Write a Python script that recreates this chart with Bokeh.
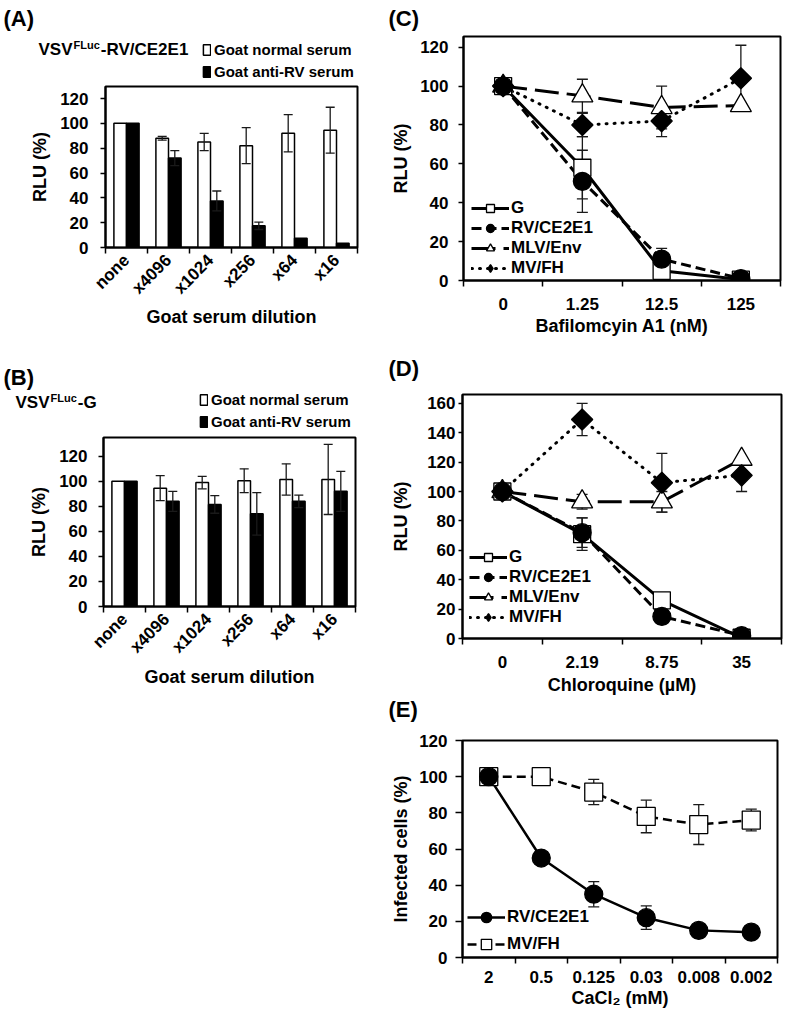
import math
import numpy as np
from bokeh.plotting import figure
from bokeh.models import Range1d, FixedTicker, Legend, LegendItem, Label
from bokeh.layouts import row, column
from bokeh.embed import file_html
from bokeh.resources import INLINE

FONT = "Liberation Sans"

# ---------------- data ----------------
dilution_labels = ["none", "x4096", "x1024", "x256", "x64", "x16"]
A_normal     = [100, 88, 85, 82, 92, 94.5]
A_normal_err = [0, 1.5, 7, 14.5, 15, 18.5]
A_anti       = [100, 72, 37.5, 17.5, 7.5, 3.5]
A_anti_err   = [0, 6, 8, 3, 0, 0]

B_normal     = [100, 94.5, 99, 100.5, 101.5, 101.5]
B_normal_err = [0, 10, 5, 9.5, 12.5, 28]
B_anti       = [100, 84, 81.5, 74, 84, 92]
B_anti_err   = [0, 8, 7, 17, 5, 16]

bafilomycin_labels = ["0", "1.25", "12.5", "125"]
C_G       = [100, 58, 5, 0.5]
C_G_err   = [0, 16, 0, 0]
C_RV      = [100, 51, 11, 1]
C_RV_err  = [0, 16, 5.5, 0]
C_MLV     = [100, 95, 89, 90]
C_MLV_err = [0, 8.5, 11, 0]
C_MV      = [100, 80, 82, 104]
C_MV_err  = [0, 6, 8, 17]

chloroquine_labels = ["0", "2.19", "8.75", "35"]
D_G       = [100, 71, 26, 0.5]
D_G_err   = [0, 11, 0, 0]
D_RV      = [100, 72, 15, 2]
D_RV_err  = [0, 10, 0, 0]
D_MLV     = [100, 93, 93, 122]
D_MLV_err = [0, 5, 7, 0]
D_MV      = [100, 149, 106, 111]
D_MV_err  = [0, 11, 20, 11]

cacl2_labels = ["2", "0.5", "0.125", "0.03", "0.008", "0.002"]
E_RV      = [100, 55, 35, 22, 15, 14]
E_RV_err  = [0, 0, 7, 6.5, 0, 0]
E_MV      = [100, 100, 91.5, 78, 73.5, 76]
E_MV_err  = [0, 4, 7, 9, 11, 6]

series_names = ["G", "RV/CE2E1", "MLV/Env", "MV/FH"]
serum_names = ["Goat normal serum", "Goat anti-RV serum"]

# ---------------- helpers ----------------
CHAR_W = {'V': .667, 'S': .667, 'F': .611, 'L': .611, 'u': .611, 'c': .556, '-': .333,
          'R': .722, '/': .278, 'C': .722, 'E': .667, '2': .556, '1': .556, 'G': .778}


def text_width(s, size):
    return sum(CHAR_W.get(ch, .6) for ch in s) * size


def header(width, height):
    """Axis-less strip whose data units are pixels (y measured from the top)."""
    h = figure(width=width, height=height, output_backend="svg", toolbar_location=None,
               x_range=Range1d(0, width), y_range=Range1d(height, 0),
               x_axis_type=None, y_axis_type=None, frame_align=False,
               min_border_left=0, min_border_right=0, min_border_top=0, min_border_bottom=0)
    h.outline_line_color = None
    h.background_fill_color = "white"
    h.border_fill_color = "white"
    return h


def add_text(h, x, y, text, size):
    h.add_layout(Label(x=x, y=y, text=text, text_font=FONT, text_font_style="bold",
                       text_font_size=f"{size}px", text_align="left",
                       text_baseline="middle", text_color="black"))


def add_sup_title(h, x, y, main1, sup, main2, size=17, supsize=11):
    add_text(h, x, y, main1, size)
    x2 = x + text_width(main1, size) + 1
    add_text(h, x2, y - size * 0.25, sup, supsize)
    x3 = x2 + text_width(sup, supsize) + 1
    add_text(h, x3, y, main2, size)


def make_panel(width, height, n_cat, cat_labels, ymax, yticks, borders):
    left, right, top, bottom = borders
    p = figure(width=width, height=height, output_backend="svg", toolbar_location=None,
               x_range=Range1d(-0.5, n_cat - 0.5), y_range=Range1d(0, ymax),
               frame_align=False,
               min_border_left=left, min_border_right=right,
               min_border_top=top, min_border_bottom=bottom)
    p.xgrid.visible = False
    p.ygrid.visible = False
    p.outline_line_color = "black"
    p.outline_line_width = 2
    p.outline_line_alpha = 1
    p.background_fill_color = "white"
    p.border_fill_color = "white"
    xa = p.xaxis[0]
    xa.ticker = FixedTicker(ticks=list(range(n_cat)),
                            minor_ticks=[i - 0.5 for i in range(n_cat + 1)])
    xa.major_label_overrides = {i: lab for i, lab in enumerate(cat_labels)}
    xa.major_tick_out = 0
    xa.major_tick_in = 0
    xa.minor_tick_out = 6
    xa.minor_tick_in = 0
    ya = p.yaxis[0]
    ya.ticker = FixedTicker(ticks=yticks, minor_ticks=[])
    ya.major_tick_out = 5
    ya.major_tick_in = 0
    ya.minor_tick_out = 0
    ya.minor_tick_in = 0
    for ax in (xa, ya):
        ax.axis_line_width = 2
        ax.axis_line_color = "black"
        ax.major_tick_line_width = 1.5
        ax.minor_tick_line_width = 1.5
        ax.major_label_text_font = FONT
        ax.major_label_text_font_style = "bold"
        ax.major_label_text_font_size = "17px"
        ax.major_label_text_color = "black"
        ax.axis_label_text_font = FONT
        ax.axis_label_text_font_style = "bold"
        ax.axis_label_text_font_size = "18px"
        ax.axis_label_text_color = "black"
    return p


def add_errors(p, x, y, err, cap, color="#1a1a1a", lw=1.3):
    x = np.asarray(x, float)
    y = np.asarray(y, float)
    e = np.asarray(err, float)
    m = e > 0
    lo = y[m] - e[m]
    hi = y[m] + e[m]
    p.segment(x0=x[m], y0=lo, x1=x[m], y1=hi, line_color=color, line_width=lw)
    p.scatter(x=np.concatenate([x[m], x[m]]), y=np.concatenate([lo, hi]),
              marker="dash", size=cap, line_color=color, line_width=lw)


BAR_FILL = {"Goat normal serum": "white", "Goat anti-RV serum": "black"}


def bar_panel(p, labels, normal, normal_err, anti, anti_err):
    x = np.arange(len(labels))
    p.vbar(x=x - 0.15, top=normal, width=0.3, fill_color=BAR_FILL[serum_names[0]],
           line_color="black", line_width=1.5)
    p.vbar(x=x + 0.15, top=anti, width=0.3, fill_color=BAR_FILL[serum_names[1]],
           line_color="black", line_width=1.5)
    add_errors(p, x - 0.15, normal, normal_err, cap=9)
    add_errors(p, x + 0.15, anti, anti_err, cap=9)


def bar_legend(h, labels, normal, anti, location):
    """Legend key for the bar series; its renderers carry the same values but stay hidden."""
    x = np.arange(len(labels))
    items = []
    for name, vals in zip(serum_names, (normal, anti)):
        r = h.vbar(x=x, top=vals, width=0.3, fill_color=BAR_FILL[name],
                   line_color="black", line_width=1.5, visible=False)
        items.append(LegendItem(label=name, renderers=[r]))
    leg = Legend(items=items, location=location,
                 padding=0, margin=0, spacing=5, glyph_width=9, glyph_height=13,
                 label_standoff=3, label_text_font=FONT, label_text_font_style="bold",
                 label_text_font_size="15px", label_text_color="black",
                 background_fill_alpha=0, border_line_alpha=0, label_height=16)
    h.add_layout(leg)


STYLE = {
    "G":        dict(dash="solid", cap="butt", marker="square", fill="white", size=17, angle=0, legend_marker="square"),
    "RV/CE2E1": dict(dash="10 5", cap="butt", marker="circle", fill="black", size=18, angle=0, legend_marker="circle"),
    "MLV/Env":  dict(dash="24 8", cap="butt", marker="triangle", fill="white", size=21, angle=0, legend_marker="triangle"),
    "MV/FH":    dict(dash="1 7", cap="round", marker="square", fill="black", size=15, angle=math.pi / 4, legend_marker="diamond"),
}


def line_panel(p, n, data, draw_order, legend_order, location, lw=3, cap=11, spacing=0, gh=20):
    x = np.arange(n)
    lines = {}
    for name in draw_order:
        y, e, st = data[name]
        lines[name] = p.line(x, y, line_color="black", line_width=lw,
                             line_dash=st["dash"], line_cap=st["cap"])
    for name in draw_order:
        y, e, st = data[name]
        add_errors(p, x, y, e, cap=cap)
    marks = {}
    for name in draw_order:
        y, e, st = data[name]
        marks[name] = p.scatter(x, y, marker=st["marker"], size=st["size"], angle=st["angle"],
                                fill_color=st["fill"], line_color="black", line_width=1.3)
    items = []
    for name in legend_order:
        y, e, st = data[name]
        if st["angle"] != 0:
            # legend glyphs ignore the marker angle: use an unrotated diamond (hidden) as key
            proxy = p.scatter(x, y, marker=st["legend_marker"], size=st["size"],
                              fill_color=st["fill"], line_color="black", line_width=1.3,
                              visible=False)
            items.append(LegendItem(label=name, renderers=[lines[name], proxy]))
        else:
            items.append(LegendItem(label=name, renderers=[lines[name], marks[name]]))
    leg = Legend(items=items, location=location, padding=0, margin=0, spacing=spacing,
                 glyph_width=38, glyph_height=gh,
                 label_standoff=2, label_text_font=FONT, label_text_font_style="bold",
                 label_text_font_size="17px", label_text_color="black",
                 background_fill_alpha=0, border_line_alpha=0, label_height=19)
    p.add_layout(leg)


# ---------------- panel A ----------------
hA = header(388, 84)
add_text(hA, 3, 18, "(A)", 22)
add_sup_title(hA, 38, 49, "VSV", "FLuc", "-RV/CE2E1")
bar_legend(hA, dilution_labels, A_normal, A_anti, (202, 4))

pA = make_panel(388, 256, len(dilution_labels), dilution_labels, 129.7,
                [0, 20, 40, 60, 80, 100, 120], (105, 31, 2, 93))
pA.xaxis[0].major_label_orientation = math.pi / 4
pA.xaxis[0].major_label_standoff = 4
pA.xaxis[0].axis_label = "Goat serum dilution"
pA.xaxis[0].axis_label_standoff = 0
pA.yaxis[0].axis_label = "RLU (%)"
pA.yaxis[0].major_label_standoff = 12
pA.yaxis[0].axis_label_standoff = 7
bar_panel(pA, dilution_labels, A_normal, A_normal_err, A_anti, A_anti_err)

# ---------------- panel B ----------------
hB = header(388, 95)
add_text(hB, 3, 37, "(B)", 22)
add_sup_title(hB, 15, 62, "VSV", "FLuc", "-G")
bar_legend(hB, dilution_labels, B_normal, B_anti, (199, 5))

pB = make_panel(388, 255, len(dilution_labels), dilution_labels, 135,
                [0, 20, 40, 60, 80, 100, 120], (103, 33, 2, 81))
pB.xaxis[0].major_label_orientation = math.pi / 4
pB.xaxis[0].major_label_standoff = 4
pB.xaxis[0].axis_label = "Goat serum dilution"
pB.xaxis[0].axis_label_standoff = 1
pB.yaxis[0].axis_label = "RLU (%)"
pB.yaxis[0].major_label_standoff = 11
pB.yaxis[0].axis_label_standoff = 7
bar_panel(pB, dilution_labels, B_normal, B_normal_err, B_anti, B_anti_err)

# ---------------- panel C ----------------
hC = header(397, 34)
add_text(hC, 0, 18, "(C)", 22)

pC = make_panel(397, 306, len(bafilomycin_labels), bafilomycin_labels, 125.5,
                [0, 20, 40, 60, 80, 100, 120], (72, 5, 2, 60))
pC.xaxis[0].axis_label = "Bafilomcyin A1 (nM)"
pC.xaxis[0].major_label_standoff = 11
pC.xaxis[0].axis_label_standoff = 3
pC.yaxis[0].axis_label = "RLU (%)"
pC.yaxis[0].major_label_standoff = 10
pC.yaxis[0].axis_label_standoff = 6
dataC = {"G": (C_G, C_G_err, STYLE["G"]), "RV/CE2E1": (C_RV, C_RV_err, STYLE["RV/CE2E1"]),
         "MLV/Env": (C_MLV, C_MLV_err, STYLE["MLV/Env"]), "MV/FH": (C_MV, C_MV_err, STYLE["MV/FH"])}
line_panel(pC, len(bafilomycin_labels), dataC, ["MLV/Env", "MV/FH", "G", "RV/CE2E1"],
           series_names, (8, 2))

# ---------------- panel D ----------------
hD = header(397, 52)
add_text(hD, 0, 28, "(D)", 22)

pD = make_panel(397, 306, len(chloroquine_labels), chloroquine_labels, 166,
                [0, 20, 40, 60, 80, 100, 120, 140, 160], (71, 4, 2, 60))
pD.xaxis[0].axis_label = "Chloroquine (µM)"
pD.xaxis[0].major_label_standoff = 11
pD.xaxis[0].axis_label_standoff = 4
pD.yaxis[0].axis_label = "RLU (%)"
pD.yaxis[0].major_tick_out = 4
pD.yaxis[0].major_label_standoff = 3
pD.yaxis[0].axis_label_standoff = 13
dataD = {"G": (D_G, D_G_err, STYLE["G"]), "RV/CE2E1": (D_RV, D_RV_err, STYLE["RV/CE2E1"]),
         "MLV/Env": (D_MLV, D_MLV_err, STYLE["MLV/Env"]), "MV/FH": (D_MV, D_MV_err, STYLE["MV/FH"])}
line_panel(pD, len(chloroquine_labels), dataD, ["MLV/Env", "MV/FH", "G", "RV/CE2E1"],
           series_names, (7, 11))

# ---------------- panel E ----------------
hE = header(397, 30)
add_text(hE, 0, 11, "(E)", 22)

pE = make_panel(397, 284, len(cacl2_labels), cacl2_labels, 120,
                [0, 20, 40, 60, 80, 100, 120], (70, 8, 12, 55))
pE.xaxis[0].axis_label = "CaCl₂ (mM)"
pE.xaxis[0].major_label_standoff = 7
pE.xaxis[0].axis_label_standoff = 2
pE.yaxis[0].axis_label = "Infected cells (%)"
pE.yaxis[0].major_tick_out = 7
pE.yaxis[0].major_label_standoff = 8
pE.yaxis[0].axis_label_standoff = 5
styleE_RV = dict(dash="solid", cap="butt", marker="circle", fill="black", size=18, angle=0, legend_marker="circle")
styleE_MV = dict(dash="9 5", cap="butt", marker="square", fill="white", size=18, angle=0, legend_marker="square")
dataE = {"RV/CE2E1": (E_RV, E_RV_err, styleE_RV), "MV/FH": (E_MV, E_MV_err, styleE_MV)}
line_panel(pE, len(cacl2_labels), dataE, ["MV/FH", "RV/CE2E1"], ["RV/CE2E1", "MV/FH"],
           (5, 0), lw=2.5, spacing=1, gh=26)

layout = row(column(hA, pA, hB, pB), column(hC, pC, hD, pD, hE, pE))
open("out.html", "w").write(file_html(layout, INLINE))
